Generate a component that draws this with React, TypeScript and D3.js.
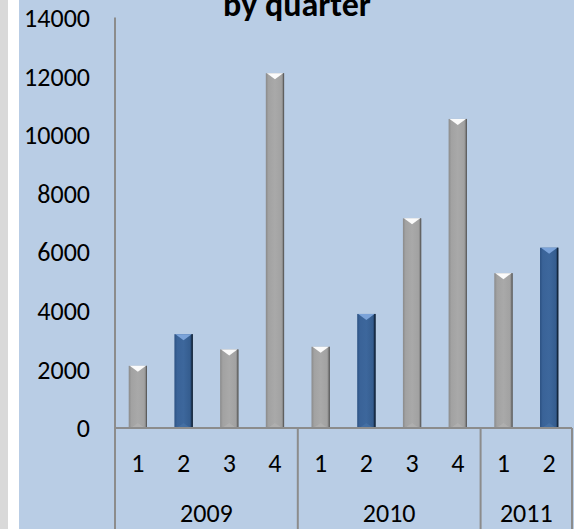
import React from "react";
import * as d3 from "d3";

const years = ["2009", "2010", "2011"];
const quartersPerYear = [4, 4, 2];
const quarterLabels = ["1", "2", "3", "4", "1", "2", "3", "4", "1", "2"];
const values = [2120, 3200, 2680, 12100, 2770, 3890, 7150, 10540, 5280, 6150];
const highlighted = [false, true, false, false, false, true, false, false, false, true];
const yTicks = [0, 2000, 4000, 6000, 8000, 10000, 12000, 14000];
const titleText = "by quarter";

const W = 574;
const H = 529;
const left = 115;
const right = 572;
const top = 17.5;
const base = 428;

export default function App() {
  const idx = values.map((_, i) => i);
  const x = d3.scaleBand<number>().domain(idx).range([left, right]).paddingInner(0.6).paddingOuter(0.3);
  const y = d3.scaleLinear().domain([0, 14000]).range([base, top]);
  const step = x.step();
  const bw = x.bandwidth();
  const font = "Carlito, Calibri, Lato, 'Open Sans', sans-serif";

  const bounds: number[] = [0];
  let acc = 0;
  quartersPerYear.forEach((q) => {
    acc += q;
    bounds.push(acc);
  });
  const bx = (k: number) => left + k * step;

  return (
    <div style={{ position: "fixed", left: 0, top: 0 }}>
      <svg width={W} height={H} style={{ display: "block" }}>
        <defs>
          <linearGradient id="gGray" x1="0" x2="1" y1="0" y2="0">
            <stop offset="0" stopColor="#8a8a8a" />
            <stop offset="0.15" stopColor="#a2a2a2" />
            <stop offset="0.5" stopColor="#a9a9a9" />
            <stop offset="0.85" stopColor="#a2a2a2" />
            <stop offset="1" stopColor="#6e6e6e" />
          </linearGradient>
          <linearGradient id="gBlue" x1="0" x2="1" y1="0" y2="0">
            <stop offset="0" stopColor="#2c5182" />
            <stop offset="0.15" stopColor="#3a6398" />
            <stop offset="0.5" stopColor="#3d679c" />
            <stop offset="0.85" stopColor="#355d8f" />
            <stop offset="1" stopColor="#142a45" />
          </linearGradient>
        </defs>
        <rect x={0} y={0} width={8} height={H} fill="#d9d9d9" />
        <rect x={8} y={0} width={11} height={H} fill="#ffffff" />
        <rect x={19} y={0} width={W - 19} height={H} fill="#b9cde5" />

        <text x={297} y={16} textAnchor="middle" fontFamily={font} fontWeight="bold" fontSize={34} fill="#000">
          {titleText}
        </text>

        {yTicks.map((t) => (
          <text key={t} x={90} y={y(t)} dy="0.36em" textAnchor="end" fontFamily={font} fontSize={26} fill="#000">
            {t}
          </text>
        ))}

        {values.map((v, i) => {
          const x0 = x(i)!;
          const y0 = y(v);
          const h = base - y0;
          const hi = highlighted[i];
          return (
            <g key={i}>
              <rect x={x0} y={y0} width={bw} height={h} fill={hi ? "url(#gBlue)" : "url(#gGray)"} />
              <polygon
                points={`${x0 + 1},${y0} ${x0 + bw - 1},${y0} ${x0 + bw / 2},${y0 + 6}`}
                fill={hi ? "#7ea6dc" : "#ffffff"}
                opacity={0.95}
              />
              <polygon
                points={`${x0 + 2},${base} ${x0 + bw - 2},${base} ${x0 + bw / 2},${base - 5}`}
                fill={hi ? "#4a74a8" : "#b4b4b4"}
                opacity={0.6}
              />
              <line x1={x0 + bw - 0.5} x2={x0 + bw - 0.5} y1={y0} y2={base} stroke={hi ? "#0f1f33" : "#5e5e5e"} strokeWidth={1} />
            </g>
          );
        })}

        <line x1={left} x2={left} y1={top} y2={H} stroke="#8c8c8c" strokeWidth={2} />
        <line x1={left} x2={right} y1={base} y2={base} stroke="#8c8c8c" strokeWidth={2} />
        {bounds.slice(1).map((b, k) => (
          <line key={k} x1={bx(b)} x2={bx(b)} y1={base} y2={H} stroke="#8c8c8c" strokeWidth={2} />
        ))}

        {quarterLabels.map((q, i) => (
          <text key={i} x={x(i)! + bw / 2} y={472} textAnchor="middle" fontFamily={font} fontSize={26} fill="#000">
            {q}
          </text>
        ))}

        {years.map((yr, k) => (
          <text key={yr} x={(bx(bounds[k]) + bx(bounds[k + 1])) / 2} y={522} textAnchor="middle" fontFamily={font} fontSize={26} fill="#000">
            {yr}
          </text>
        ))}
      </svg>
    </div>
  );
}
